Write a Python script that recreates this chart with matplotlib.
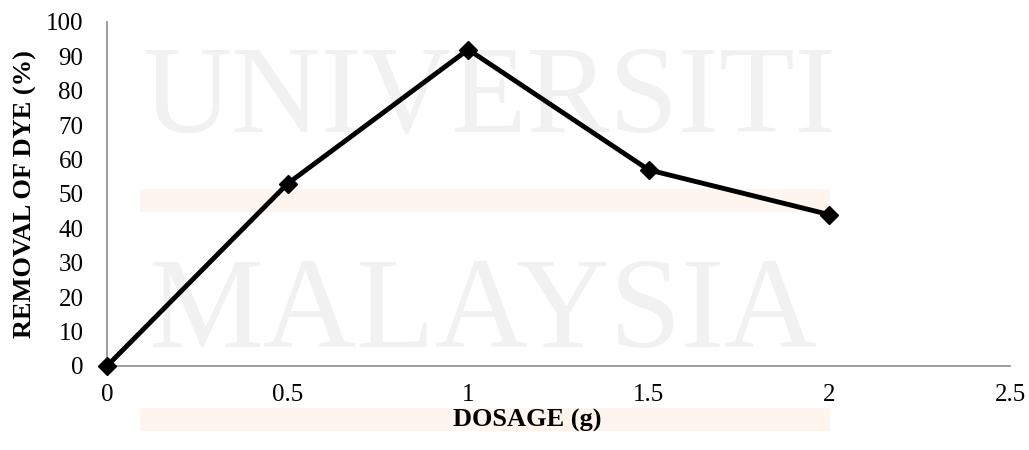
import matplotlib
matplotlib.use("Agg")
import matplotlib.pyplot as plt
from matplotlib.patches import Rectangle

# data
dosage = [0, 0.5, 1, 1.5, 2]
removal = [0, 53, 92, 57, 44]
x_ticks = [0, 0.5, 1, 1.5, 2, 2.5]
x_labels = ["0", "0.5", "1", "1.5", "2", "2.5"]
y_ticks = list(range(0, 101, 10))

plt.rcParams["font.family"] = ["Liberation Serif", "DejaVu Serif"]

W, H = 1029, 450
fig = plt.figure(figsize=(W / 100, H / 100), dpi=100)

# faint thesis watermark, drawn in a background axes (pixel coords)
bg = fig.add_axes([0, 0, 1, 1], zorder=0)
bg.set_xlim(0, W)
bg.set_ylim(H, 0)
bg.axis("off")
bg.text(142, 132, "UNIVERSITI", fontsize=89, color="#f1f1f1",
        ha="left", va="baseline")
bg.text(148, 347, "MALAYSIA", fontsize=93, color="#f1f1f1",
        ha="left", va="baseline")
for y0 in (189, 408):
    bg.add_patch(Rectangle((140, y0), 690, 23, color="#fef5ee", lw=0))

ax = fig.add_axes([107 / W, 1 - 366 / H, (1010 - 107) / W, (366 - 22) / H],
                  zorder=1)
ax.patch.set_alpha(0)

ax.plot(dosage, removal, color="black", linewidth=3.5, marker="D",
        markersize=9, clip_on=False, zorder=3)

ax.set_xlim(0, 2.5)
ax.set_ylim(0, 100)
ax.set_xticks(x_ticks)
ax.set_xticklabels(x_labels)
ax.set_yticks(y_ticks)
ax.tick_params(length=0, labelsize=18)
ax.tick_params(axis="x", pad=13)
ax.tick_params(axis="y", pad=17)

for s in ("top", "right"):
    ax.spines[s].set_visible(False)
for s in ("left", "bottom"):
    ax.spines[s].set_color("#8c8c8c")
    ax.spines[s].set_linewidth(1.2)

ax.set_xlabel("DOSAGE (g)", fontsize=19, fontweight="bold")
ax.xaxis.set_label_coords(0.465, -0.125)
ax.set_ylabel("REMOVAL OF DYE (%)", fontsize=19, fontweight="bold")
ax.yaxis.set_label_coords(-0.078, 0.5)

fig.savefig("out.png", dpi=100)
